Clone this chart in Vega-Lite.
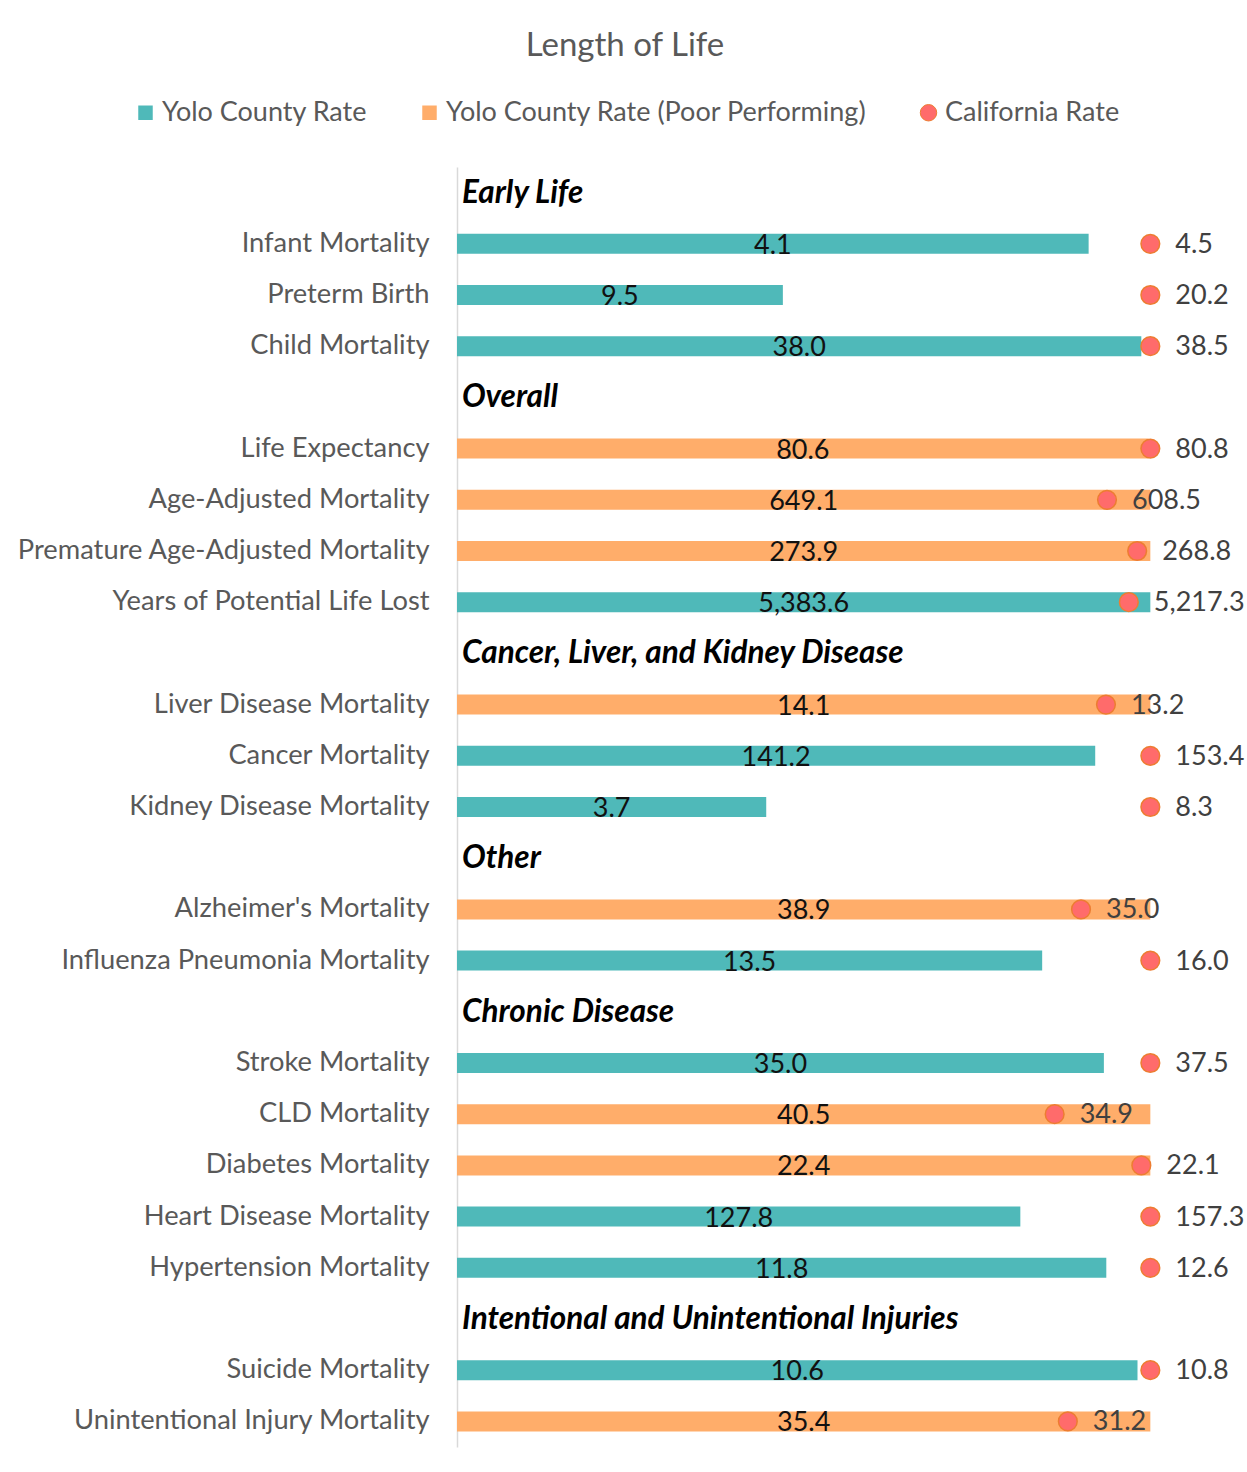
{
  "$schema": "https://vega.github.io/schema/vega-lite/v6.json",
  "autosize": {"type": "none"},
  "padding": {"left": 457, "top": 167, "right": 10, "bottom": 25},
  "width": 780,
  "height": 1280,
  "background": "white",
  "config": {"view": {"stroke": null}, "font": "Lato"},
  "title": {
    "text": "Length of Life",
    "anchor": "middle",
    "dx": -222,
    "offset": 36,
    "fontSize": 33,
    "fontWeight": "normal",
    "color": "#595959",
    "font": "Lato"
  },
  "data": {
    "values": [
      {"name": "Early Life", "kind": "heading"},
      {"name": "Infant Mortality", "kind": "item", "perf": "Yolo County Rate", "yolo": 4.1, "ca": 4.5, "yolo_index": 0.911, "ca_index": 1},
      {"name": "Preterm Birth", "kind": "item", "perf": "Yolo County Rate", "yolo": 9.5, "ca": 20.2, "yolo_index": 0.470, "ca_index": 1},
      {"name": "Child Mortality", "kind": "item", "perf": "Yolo County Rate", "yolo": 38.0, "ca": 38.5, "yolo_index": 0.987, "ca_index": 1},
      {"name": "Overall", "kind": "heading"},
      {"name": "Life Expectancy", "kind": "item", "perf": "Yolo County Rate (Poor Performing)", "yolo": 80.6, "ca": 80.8, "yolo_index": 0.9975, "ca_index": 1},
      {"name": "Age-Adjusted Mortality", "kind": "item", "perf": "Yolo County Rate (Poor Performing)", "yolo": 649.1, "ca": 608.5, "yolo_index": 1, "ca_index": 0.9375},
      {"name": "Premature Age-Adjusted Mortality", "kind": "item", "perf": "Yolo County Rate (Poor Performing)", "yolo": 273.9, "ca": 268.8, "yolo_index": 1, "ca_index": 0.981},
      {"name": "Years of Potential Life Lost", "kind": "item", "perf": "Yolo County Rate", "yolo": 5383.6, "ca": 5217.3, "yolo_index": 1, "ca_index": 0.969},
      {"name": "Cancer, Liver, and Kidney Disease", "kind": "heading"},
      {"name": "Liver Disease Mortality", "kind": "item", "perf": "Yolo County Rate (Poor Performing)", "yolo": 14.1, "ca": 13.2, "yolo_index": 1, "ca_index": 0.936},
      {"name": "Cancer Mortality", "kind": "item", "perf": "Yolo County Rate", "yolo": 141.2, "ca": 153.4, "yolo_index": 0.9205, "ca_index": 1},
      {"name": "Kidney Disease Mortality", "kind": "item", "perf": "Yolo County Rate", "yolo": 3.7, "ca": 8.3, "yolo_index": 0.446, "ca_index": 1},
      {"name": "Other", "kind": "heading"},
      {"name": "Alzheimer's Mortality", "kind": "item", "perf": "Yolo County Rate (Poor Performing)", "yolo": 38.9, "ca": 35.0, "yolo_index": 1, "ca_index": 0.900},
      {"name": "Influenza Pneumonia Mortality", "kind": "item", "perf": "Yolo County Rate", "yolo": 13.5, "ca": 16.0, "yolo_index": 0.844, "ca_index": 1},
      {"name": "Chronic Disease", "kind": "heading"},
      {"name": "Stroke Mortality", "kind": "item", "perf": "Yolo County Rate", "yolo": 35.0, "ca": 37.5, "yolo_index": 0.933, "ca_index": 1},
      {"name": "CLD Mortality", "kind": "item", "perf": "Yolo County Rate (Poor Performing)", "yolo": 40.5, "ca": 34.9, "yolo_index": 1, "ca_index": 0.862},
      {"name": "Diabetes Mortality", "kind": "item", "perf": "Yolo County Rate (Poor Performing)", "yolo": 22.4, "ca": 22.1, "yolo_index": 1, "ca_index": 0.987},
      {"name": "Heart Disease Mortality", "kind": "item", "perf": "Yolo County Rate", "yolo": 127.8, "ca": 157.3, "yolo_index": 0.8125, "ca_index": 1},
      {"name": "Hypertension Mortality", "kind": "item", "perf": "Yolo County Rate", "yolo": 11.8, "ca": 12.6, "yolo_index": 0.9365, "ca_index": 1},
      {"name": "Intentional and Unintentional Injuries", "kind": "heading"},
      {"name": "Suicide Mortality", "kind": "item", "perf": "Yolo County Rate", "yolo": 10.6, "ca": 10.8, "yolo_index": 0.9815, "ca_index": 1},
      {"name": "Unintentional Injury Mortality", "kind": "item", "perf": "Yolo County Rate (Poor Performing)", "yolo": 35.4, "ca": 31.2, "yolo_index": 1, "ca_index": 0.881}
    ]
  },
  "encoding": {
    "y": {
      "field": "name",
      "type": "nominal",
      "sort": ["Early Life", "Infant Mortality", "Preterm Birth", "Child Mortality", "Overall", "Life Expectancy", "Age-Adjusted Mortality", "Premature Age-Adjusted Mortality", "Years of Potential Life Lost", "Cancer, Liver, and Kidney Disease", "Liver Disease Mortality", "Cancer Mortality", "Kidney Disease Mortality", "Other", "Alzheimer's Mortality", "Influenza Pneumonia Mortality", "Chronic Disease", "Stroke Mortality", "CLD Mortality", "Diabetes Mortality", "Heart Disease Mortality", "Hypertension Mortality", "Intentional and Unintentional Injuries", "Suicide Mortality", "Unintentional Injury Mortality"],
      "title": null,
      "scale": {"paddingInner": 0.6, "paddingOuter": 0.3},
      "axis": {
        "labelExpr": "indexof(['Early Life','Overall','Cancer, Liver, and Kidney Disease','Other','Chronic Disease','Intentional and Unintentional Injuries'], datum.value) >= 0 ? '' : datum.value",
        "labelFontSize": 27.3,
        "labelColor": "#595959",
        "labelFont": "Lato",
        "labelPadding": 28,
        "ticks": false,
        "domainColor": "#D9D9D9",
        "domainWidth": 1.5,
        "labelLimit": 500
      }
    }
  },
  "layer": [
    {
      "transform": [{"filter": "datum.kind === 'item'"}],
      "mark": {"type": "bar", "size": 20},
      "encoding": {
        "x": {"field": "yolo_index", "type": "quantitative", "scale": {"domain": [0, 1.125], "nice": false, "zero": true}, "axis": null},
        "color": {
          "field": "perf",
          "type": "nominal",
          "scale": {
            "domain": ["Yolo County Rate", "Yolo County Rate (Poor Performing)", "California Rate"],
            "range": ["#4FB9B9", "#FFAD6A", "#FF6B6B"]
          },
          "legend": {
            "title": null,
            "orient": "none",
            "direction": "horizontal",
            "legendX": -325,
            "legendY": -68,
            "labelFontSize": 27,
            "labelFont": "Lato",
            "labelColor": "#595959",
            "labelOffset": 3,
            "columnPadding": 48,
            "symbolSize": 220,
            "symbolOpacity": 1,
            "labelLimit": 600,
            "encode": {
              "symbols": {
                "update": {
                  "shape": {"signal": "datum.label === 'California Rate' ? 'circle' : 'square'"},
                  "size": {"signal": "datum.label === 'California Rate' ? 270 : 210"},
                  "stroke": {"signal": "datum.label === 'California Rate' ? '#ED7D31' : null"},
                  "strokeWidth": {"value": 1}
                }
              }
            }
          }
        }
      }
    },
    {
      "transform": [{"filter": "datum.kind === 'item'"}],
      "mark": {"type": "text", "fontSize": 27, "color": "#111111", "baseline": "middle", "dy": 2, "font": "Lato"},
      "encoding": {
        "x": {"field": "yolo_index", "type": "quantitative", "scale": {"domain": [0, 2.25], "nice": false, "zero": true}, "axis": null},
        "text": {"field": "yolo", "type": "quantitative", "format": ",.1f"}
      }
    },
    {
      "transform": [{"filter": "datum.kind === 'item'"}],
      "mark": {"type": "point", "filled": true, "size": 350, "opacity": 1, "stroke": "#ED7D31", "strokeWidth": 1.5, "shape": "circle"},
      "encoding": {
        "x": {"field": "ca_index", "type": "quantitative", "scale": {"domain": [0, 1.125], "nice": false, "zero": true}, "axis": null},
        "color": {"datum": "California Rate", "type": "nominal"}
      }
    },
    {
      "transform": [{"filter": "datum.kind === 'item'"}],
      "mark": {"type": "text", "fontSize": 27, "color": "#404040", "align": "left", "baseline": "middle", "dx": 25, "dy": 1, "font": "Lato"},
      "encoding": {
        "x": {"field": "ca_index", "type": "quantitative", "scale": {"domain": [0, 1.125], "nice": false, "zero": true}, "axis": null},
        "text": {"field": "ca", "type": "quantitative", "format": ",.1f"}
      }
    },
    {
      "transform": [{"filter": "datum.kind === 'heading'"}],
      "mark": {"type": "text", "fontSize": 31.5, "fontWeight": "bold", "fontStyle": "italic", "color": "#000000", "align": "left", "baseline": "middle", "dx": 5, "dy": 1, "font": "Lato"},
      "encoding": {
        "x": {"datum": 0, "type": "quantitative", "scale": {"domain": [0, 1.125], "nice": false, "zero": true}, "axis": null},
        "text": {"field": "name"}
      }
    }
  ],
  "resolve": {"scale": {"x": "independent"}}
}
